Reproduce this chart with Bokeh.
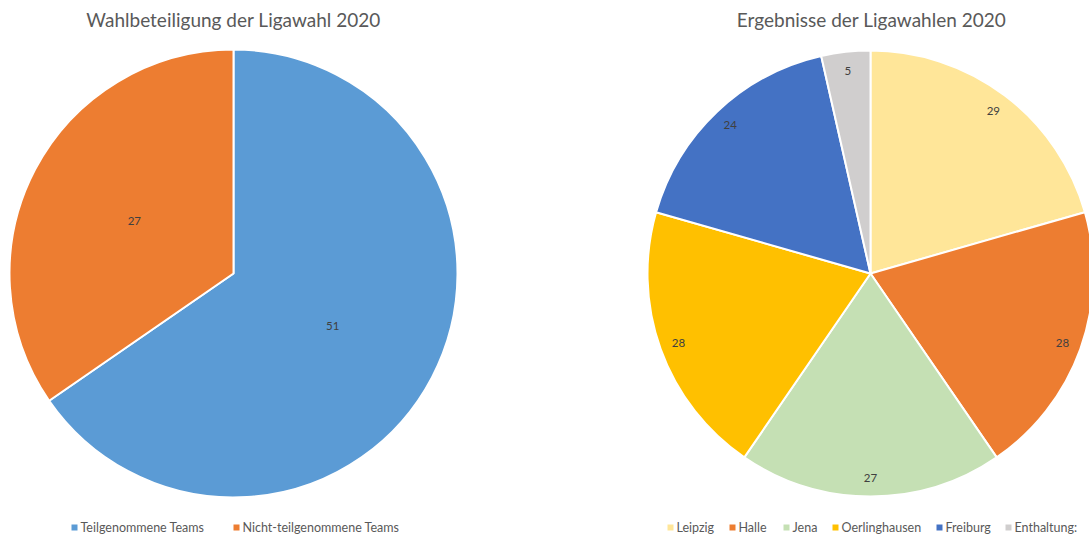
import math
from bokeh.plotting import figure
from bokeh.models import Range1d
from bokeh.core.properties import value
from bokeh.embed import file_html
from bokeh.resources import INLINE

# ---- data ----
left_title = "Wahlbeteiligung der Ligawahl 2020"
left_cats = ["Teilgenommene Teams", "Nicht-teilgenommene Teams"]
left_vals = [51, 27]
left_cols = ["#5B9BD5", "#ED7D31"]

right_title = "Ergebnisse der Ligawahlen 2020"
right_cats = ["Leipzig", "Halle", "Jena", "Oerlinghausen", "Freiburg", "Enthaltung:"]
right_vals = [29, 28, 27, 28, 24, 5]
right_cols = ["#FFE699", "#ED7D31", "#C5E0B4", "#FFC000", "#4472C4", "#D0CECE"]

W, H = 1089, 535
FONT = "Lato"

p = figure(width=W, height=H, output_backend="svg", toolbar_location=None,
           x_range=Range1d(0, W), y_range=Range1d(0, H),
           x_axis_type=None, y_axis_type=None, min_border=0)
p.outline_line_color = None
p.grid.visible = False
p.background_fill_color = "white"


def Y(sy):
    # screen y -> data y
    return H - sy


def pie(cx, cy, r, vals, cols, label_frac):
    total = float(sum(vals))
    acc = 0.0
    starts, ends, lx, ly, txt = [], [], [], [], []
    for v in vals:
        t1 = acc / total * 2 * math.pi
        acc += v
        t2 = acc / total * 2 * math.pi
        starts.append(math.pi / 2 - t2)
        ends.append(math.pi / 2 - t1)
        tm = (t1 + t2) / 2
        lx.append(cx + label_frac * r * math.sin(tm))
        ly.append(Y(cy) + label_frac * r * math.cos(tm))
        txt.append(str(v))
    p.wedge(x=cx, y=Y(cy), radius=r, start_angle=starts, end_angle=ends,
            fill_color=cols, line_color="white", line_width=2)
    p.text(x=lx, y=ly, text=txt, text_align="center", text_baseline="middle",
           text_font=value(FONT), text_font_size="11.5px", text_color="#404040")


pie(233, 273, 224, left_vals, left_cols, 0.5)
pie(870, 273, 223, right_vals, right_cols, 0.915)

# titles
p.text(x=[233, 871], y=[Y(19), Y(19)], text=[left_title, right_title],
       text_align="center", text_baseline="middle", text_font=value(FONT),
       text_font_size="19px", text_color="#595959")


def legend(items, cols, xs):
    for name, c, x in zip(items, cols, xs):
        p.scatter(x=[x], y=[Y(527)], marker="square", size=6, fill_color=c,
                  line_color=None)
        p.text(x=[x + 6], y=[Y(527)], text=[name], text_align="left",
               text_baseline="middle", text_font=value(FONT),
               text_font_size="12.5px", text_color="#595959")


legend(left_cats, left_cols, [74, 236])
legend(right_cats, right_cols, [670, 732, 786, 835, 939, 1008])

open("out.html", "w").write(file_html(p, INLINE))
